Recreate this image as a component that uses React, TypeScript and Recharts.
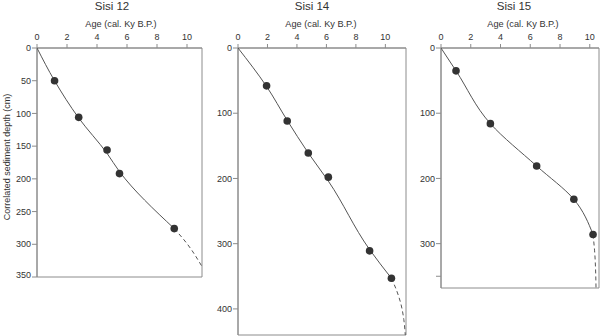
import React from 'react';
import { ScatterChart, Scatter, XAxis, YAxis, ReferenceArea } from 'recharts';

const ageTicks = [0, 2, 4, 6, 8, 10];

// Sisi 12
const s12DateAges = [1.17, 2.78, 4.67, 5.5, 9.15];
const s12DateDepths = [50, 106, 156, 192, 276];
const s12FitAges = [0, 1.17, 2.78, 4.67, 5.5, 9.15];
const s12FitDepths = [0, 50, 107, 161, 189, 276];
const s12ExtAges = [9.15, 10, 11];
const s12ExtDepths = [276, 299, 334];
const s12DepthTicks = [0, 50, 100, 150, 200, 250, 300, 350];

// Sisi 14
const s14DateAges = [1.94, 3.34, 4.77, 6.13, 8.93, 10.41];
const s14DateDepths = [58, 112, 161, 198, 311, 353];
const s14FitAges = [0, 1.94, 3.34, 4.77, 6.13, 8.93, 10.41];
const s14FitDepths = [0, 59, 111, 161, 204, 309, 353];
const s14ExtAges = [10.41, 10.75, 11.05, 11.25, 11.35];
const s14ExtDepths = [353, 371, 392, 416, 440];
const s14DepthTicks = [0, 100, 200, 300, 400];

// Sisi 15
const s15DateAges = [1.01, 3.32, 6.43, 8.93, 10.22];
const s15DateDepths = [35, 116, 181, 232, 286];
const s15FitAges = [0, 1.01, 3.32, 6.43, 8.93, 10.22];
const s15FitDepths = [0, 35, 116, 181, 232, 286];
const s15ExtAges = [10.22, 10.32, 10.42];
const s15ExtDepths = [286, 310, 368];
const s15DepthTicks = [0, 100, 200, 300, 350];

const toPoints = (ages: number[], depths: number[]) =>
  ages.map((age, i) => ({ age, depth: depths[i] }));

const AXIS = '#8c8c8c';
const LINE = '#555555';
const DOT = '#333333';
const TEXT = '#333333';

const noDot = () => <g />;
const dateDot = (p: any) => <circle cx={p.cx} cy={p.cy} r={3.8} fill={DOT} />;

interface PanelProps {
  left: number;
  width: number;
  height: number;
  yWidth: number;
  right: number;
  bottom: number;
  xMax: number;
  yMax: number;
  yTicks: number[];
  hideTick?: number;
  dates: { age: number; depth: number }[];
  fit: { age: number; depth: number }[];
  ext: { age: number; depth: number }[];
}

const Panel = ({ left, width, height, yWidth, right, bottom, xMax, yMax, yTicks, hideTick, dates, fit, ext }: PanelProps) => (
  <div style={{ position: 'absolute', left, top: 0 }}>
    <ScatterChart width={width} height={height} margin={{ top: 0, right, bottom, left: 0 }}>
      <XAxis
        type="number"
        dataKey="age"
        orientation="top"
        domain={[0, xMax]}
        ticks={ageTicks}
        allowDataOverflow
        height={48}
        stroke={AXIS}
        tickSize={4}
        tickMargin={4}
        tick={{ fontSize: 9, fill: TEXT }}
      />
      <YAxis
        type="number"
        dataKey="depth"
        reversed
        domain={[0, yMax]}
        ticks={yTicks}
        allowDataOverflow
        width={yWidth}
        stroke={AXIS}
        tickSize={5}
        tickMargin={1}
        tick={{ fontSize: 9, fill: TEXT }}
        tickFormatter={(v: number) => (v === hideTick ? '' : String(v))}
      />
      <ReferenceArea x1={0} x2={xMax} y1={0} y2={yMax} fill="none" stroke={AXIS} strokeWidth={1} ifOverflow="visible" />
      <Scatter data={fit} line={{ stroke: LINE, strokeWidth: 1 }} lineJointType="monotoneY" shape={noDot} isAnimationActive={false} />
      <Scatter data={ext} line={{ stroke: LINE, strokeWidth: 1, strokeDasharray: '4 3' }} lineJointType="monotoneY" shape={noDot} isAnimationActive={false} />
      <Scatter data={dates} shape={dateDot} isAnimationActive={false} />
    </ScatterChart>
  </div>
);

export default function App() {
  return (
    <div style={{ position: 'absolute', left: 0, top: 0, width: 600, height: 336, background: '#fff', fontFamily: '"Liberation Sans", Arial, sans-serif' }}>
      <Panel left={0} width={205} height={280} yWidth={37} right={3} bottom={3} xMax={11} yMax={350} yTicks={s12DepthTicks}
        dates={toPoints(s12DateAges, s12DateDepths)} fit={toPoints(s12FitAges, s12FitDepths)} ext={toPoints(s12ExtAges, s12ExtDepths)} />
      <Panel left={205} width={205} height={336} yWidth={33} right={4} bottom={1} xMax={11.4} yMax={440} yTicks={s14DepthTicks}
        dates={toPoints(s14DateAges, s14DateDepths)} fit={toPoints(s14FitAges, s14FitDepths)} ext={toPoints(s14ExtAges, s14ExtDepths)} />
      <Panel left={410} width={190} height={290} yWidth={31} right={1} bottom={2} xMax={10.62} yMax={368} yTicks={s15DepthTicks} hideTick={350}
        dates={toPoints(s15DateAges, s15DateDepths)} fit={toPoints(s15FitAges, s15FitDepths)} ext={toPoints(s15ExtAges, s15ExtDepths)} />
      <svg width={600} height={336} style={{ position: 'absolute', left: 0, top: 0, pointerEvents: 'none' }}>
        <g fill={TEXT} textAnchor="middle">
          <text x={112} y={9.5} fontSize={11.5}>Sisi 12</text>
          <text x={312} y={9.5} fontSize={11.5}>Sisi 14</text>
          <text x={514} y={9.5} fontSize={11.5}>Sisi 15</text>
          <text x={121} y={26.5} fontSize={9.2}>Age (cal. Ky B.P.)</text>
          <text x={321} y={26.5} fontSize={9.2}>Age (cal. Ky B.P.)</text>
          <text x={523} y={26.5} fontSize={9.2}>Age (cal. Ky B.P.)</text>
          <text transform="translate(10,157) rotate(-90)" fontSize={9}>Correlated sediment depth (cm)</text>
        </g>
      </svg>
    </div>
  );
}
